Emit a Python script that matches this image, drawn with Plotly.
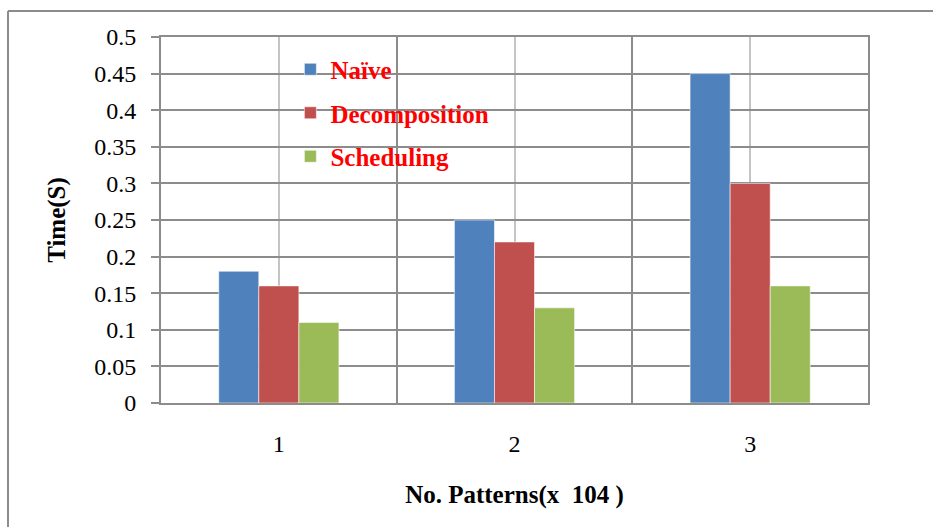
import plotly.graph_objects as go

# Pattern counts (in units of 10^4) and run times in seconds
categories = [1, 2, 3]
category_labels = ["1", "2", "3"]
naive = [0.18, 0.25, 0.45]
decomposition = [0.16, 0.22, 0.30]
scheduling = [0.11, 0.13, 0.16]

y_ticks = [0, 0.05, 0.1, 0.15, 0.2, 0.25, 0.3, 0.35, 0.4, 0.45, 0.5]
y_tick_labels = ["0", "0.05", "0.1", "0.15", "0.2", "0.25", "0.3", "0.35", "0.4", "0.45", "0.5"]

series = [
    ("Naïve", naive, "#4F81BD"),
    ("Decomposition", decomposition, "#C0504D"),
    ("Scheduling", scheduling, "#9BBB59"),
]

SERIF = "Liberation Serif, Times New Roman, serif"

fig = go.Figure()
for i, (name, values, color) in enumerate(series):
    fig.add_trace(go.Bar(
        x=categories,
        y=values,
        name=name,
        legendgroup=f"g{i}",
        marker=dict(color=color, line=dict(color="rgba(255,255,255,0.55)", width=1)),
    ))

fig.update_layout(
    width=933,
    height=527,
    margin=dict(l=161, r=65, t=37, b=124),
    paper_bgcolor="white",
    plot_bgcolor="white",
    barmode="group",
    bargap=0.49,
    bargroupgap=0,
    showlegend=True,
    legend=dict(
        x=0.183, y=0.974, xanchor="left", yanchor="top",
        bgcolor="rgba(0,0,0,0)",
        font=dict(family=SERIF, size=25, color="#FF0000", weight="bold"),
        tracegroupgap=8,
        itemclick=False,
    ),
    font=dict(family=SERIF, color="black"),
    xaxis=dict(
        range=[0.5, 3.5],
        tickvals=categories,
        ticktext=category_labels,
        tickfont=dict(family=SERIF, size=24, color="black"),
        ticks="",
        ticklabelstandoff=18,
        showgrid=True,
        gridcolor="#C4C4C4",
        gridwidth=2,
        minor=dict(tick0=0.5, dtick=1, showgrid=True, gridcolor="#8C8C8C", gridwidth=2),
        showline=True,
        linecolor="#8C8C8C",
        linewidth=2,
        mirror=True,
        zeroline=False,
        title=dict(
            text="No. Patterns(x  104 )",
            font=dict(family=SERIF, size=25, color="black", weight="bold"),
            standoff=30,
        ),
    ),
    yaxis=dict(
        range=[0, 0.5],
        tickvals=y_ticks,
        ticktext=y_tick_labels,
        tickfont=dict(family=SERIF, size=24, color="black"),
        ticks="outside",
        ticklen=8,
        tickwidth=2,
        tickcolor="#8C8C8C",
        ticklabelstandoff=10,
        showgrid=True,
        gridcolor="#8C8C8C",
        gridwidth=2,
        showline=True,
        linecolor="#8C8C8C",
        linewidth=2,
        mirror=True,
        zeroline=False,
        title=dict(
            text="Time(S)",
            font=dict(family=SERIF, size=25, color="black", weight="bold"),
            standoff=21,
        ),
    ),
    shapes=[
        # outer chart frame (top and left edges)
        dict(type="line", xref="paper", yref="paper",
             x0=-0.2164, x1=1.2, y0=1.071, y1=1.071,
             line=dict(color="#8C8C8C", width=2)),
        dict(type="line", xref="paper", yref="paper",
             x0=-0.2164, x1=-0.2164, y0=1.071, y1=-0.5,
             line=dict(color="#8C8C8C", width=2)),
    ],
)

fig.write_html("out.html")
